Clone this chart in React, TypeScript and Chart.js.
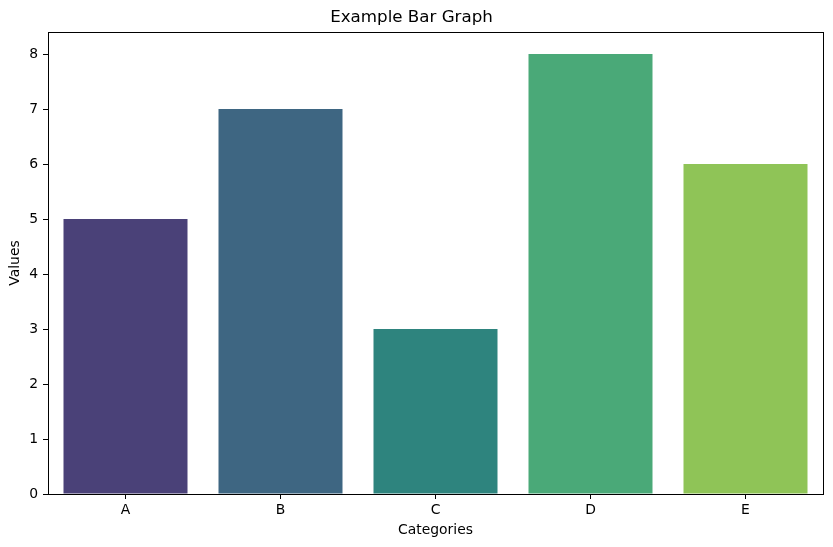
import React, { useEffect, useRef } from "react";
import { Chart, registerables } from "chart.js";

Chart.register(...registerables);

const categories = ["A", "B", "C", "D", "E"];
const values = [5, 7, 3, 8, 6];
const barColors = ["#4a4178", "#3e6682", "#2e847e", "#4aa978", "#8fc457"];
const yTicks = [0, 1, 2, 3, 4, 5, 6, 7, 8];

const FONT = "'DejaVu Sans', sans-serif";

const framePlugin = {
  id: "frame",
  afterDatasetsDraw(chart: any) {
    const { ctx, chartArea } = chart;
    ctx.save();
    ctx.strokeStyle = "#000";
    ctx.lineWidth = 1;
    ctx.strokeRect(
      Math.round(chartArea.left) + 0.5,
      Math.round(chartArea.top) + 0.5,
      Math.round(chartArea.right - chartArea.left),
      Math.round(chartArea.bottom - chartArea.top)
    );
    ctx.restore();
  },
};

export default function App() {
  const ref = useRef<HTMLCanvasElement | null>(null);
  useEffect(() => {
    const prevMargin = document.body.style.margin;
    document.body.style.margin = "0";
    if (!ref.current) return;
    const chart = new Chart(ref.current, {
      type: "bar",
      data: {
        labels: categories,
        datasets: [
          {
            data: values,
            backgroundColor: barColors,
            borderColor: barColors,
            borderWidth: 0,
            categoryPercentage: 0.8,
            barPercentage: 1.0,
          },
        ],
      },
      options: {
        responsive: false,
        devicePixelRatio: 1,
        animation: false,
        layout: { padding: { left: 0, right: 10, top: 0, bottom: 0 } },
        plugins: {
          legend: { display: false },
          tooltip: { enabled: false },
          title: {
            display: true,
            text: "Example Bar Graph",
            color: "#000",
            font: { family: FONT, size: 16.7, weight: "normal" },
            padding: { top: 8, bottom: 4 },
          },
        },
        scales: {
          x: {
            type: "category",
            offset: true,
            grid: {
              offset: false,
              drawOnChartArea: false,
              drawTicks: true,
              tickLength: 5,
              tickColor: "#000",
              color: "#000",
            },
            border: { display: true, color: "#000", width: 1 },
            ticks: {
              color: "#000",
              padding: 3,
              font: { family: FONT, size: 13.9 },
              maxRotation: 0,
            },
            title: {
              display: true,
              text: "Categories",
              color: "#000",
              font: { family: FONT, size: 13.9 },
              padding: { top: 0, bottom: 8.6 },
            },
            afterFit(scale: any) {
              scale.height = 53;
            },
          },
          y: {
            min: 0,
            max: 8.4,
            grid: {
              drawOnChartArea: false,
              drawTicks: true,
              tickLength: 5,
              tickColor: "#000",
              color: "#000",
            },
            border: { display: true, color: "#000", width: 1 },
            afterBuildTicks(scale: any) {
              scale.ticks = yTicks.map((v) => ({ value: v }));
            },
            ticks: {
              color: "#000",
              padding: 5,
              font: { family: FONT, size: 13.9 },
              includeBounds: false,
            },
            title: {
              display: true,
              text: "Values",
              color: "#000",
              font: { family: FONT, size: 13.9 },
              padding: { top: 6.6, bottom: 0 },
            },
            afterFit(scale: any) {
              scale.width = 48;
            },
          },
        },
      },
      plugins: [framePlugin],
    });
    return () => {
      chart.destroy();
      document.body.style.margin = prevMargin;
    };
  }, []);
  return (
    <div style={{ width: 833, height: 547, background: "#fff" }}>
      <canvas ref={ref} width={833} height={547} style={{ display: "block" }} />
    </div>
  );
}
